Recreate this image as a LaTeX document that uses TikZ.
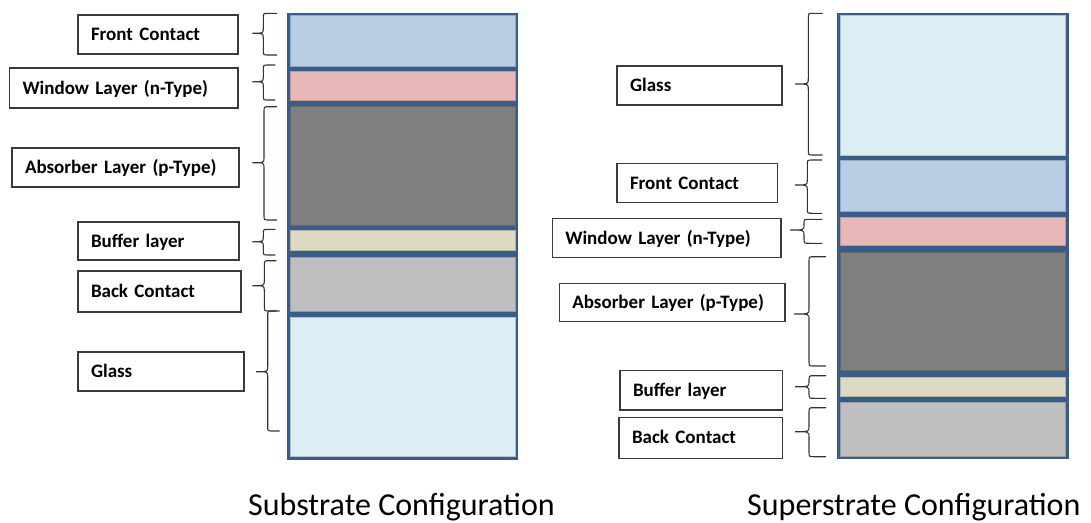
\documentclass[tikz,border=0pt]{standalone}
\usepackage{fontspec}
\setmainfont{Carlito}

\definecolor{edgeblue}{HTML}{385D8A}
\definecolor{frontc}{HTML}{B9CDE5}
\definecolor{windowc}{HTML}{E6B9B8}
\definecolor{absorbc}{HTML}{7F7F7F}
\definecolor{bufferc}{HTML}{DDD9C3}
\definecolor{backc}{HTML}{BFBFBF}
\definecolor{glassc}{HTML}{DBEEF4}
\definecolor{boxline}{HTML}{3A3A3A}

% curly brace opening to the right: name, end x, spine x, tip x, top y, tip y, bottom y
\newcommand{\layerbrace}[7]{%
  \coordinate (#1-top) at (#2,#5);
  \coordinate (#1-bot) at (#2,#7);
  \coordinate (#1-tip) at (#4,#6);
  \draw[bracestyle] (#1-top) -- (#3+5,#5) .. controls (#3,#5) .. (#3,#5+5)
    -- (#3,#6-5) .. controls (#3,#6) .. (#1-tip)
    .. controls (#3,#6) .. (#3,#6+5)
    -- (#3,#7-5) .. controls (#3,#7) .. (#3+5,#7) -- (#1-bot);
}

\begin{document}
\begin{tikzpicture}[x=1pt,y=-1pt,
  lbl/.style={draw=boxline, line width=1.1pt, fill=white, anchor=west,
    inner xsep=13pt, inner ysep=0pt, outer sep=0pt, align=left,
    text height=16.2pt, text depth=4pt,
    font=\fontsize{19}{22}\selectfont\bfseries},
  layer/.style={draw=#1!82!black, line width=0.5pt, fill=#1},
  stackframe/.style={fill=edgeblue},
  bracestyle/.style={draw=black!80, line width=1.1pt, line cap=round},
  caption/.style={font=\fontsize{32}{38}\selectfont, anchor=base west, inner sep=0pt}
]
\useasboundingbox (0,0) rectangle (1091,522);

% ---------- substrate stack ----------
\fill[stackframe] (286.7,12.7) rectangle (518.3,460);
\draw[layer=frontc]  (290,15.7)  rectangle (515.7,66);
\draw[layer=windowc] (290,71.7)  rectangle (515.7,100);
\draw[layer=absorbc] (290,106.7) rectangle (515.7,225);
\draw[layer=bufferc] (290,230)   rectangle (515.7,250);
\draw[layer=backc]   (290,257.3) rectangle (515.7,311);
\draw[layer=glassc]  (290,317.3) rectangle (515.7,456.7);

\layerbrace{bsFC}{276.7}{263.3}{252.3}{13.3}{33.3}{55}
\layerbrace{bsWL}{275}{263.3}{252.3}{65}{81.7}{100}
\layerbrace{bsAL}{276.7}{264}{252.3}{106.7}{162.7}{220}
\layerbrace{bsBL}{275}{263.3}{252.3}{229.3}{241.7}{255}
\layerbrace{bsBC}{276}{264.3}{252.3}{260.7}{285.7}{311}
\layerbrace{bsGL}{279.3}{267.7}{256}{311}{371.7}{431}

\node[lbl, text width=134pt, minimum height=39pt]   (sFC) at (78,34.5)   {Front Contact};
\node[lbl, text width=202.5pt, minimum height=40pt] (sWL) at (9.5,88)    {Window Layer (n-Type)};
\node[lbl, text width=201pt, minimum height=39pt]   (sAL) at (12,167.5)  {Absorber Layer (p-Type)};
\node[lbl, text width=135pt, minimum height=38pt]   (sBL) at (78,241)    {Buffer layer};
\node[lbl, text width=137pt, minimum height=41pt]   (sBC) at (78,291.5)  {Back Contact};
\node[lbl, text width=140pt, minimum height=39pt]   (sGL) at (78,371.5)  {Glass};

\node[caption] (subcap) at (248,515) {Substrate Configuration};

% ---------- superstrate stack ----------
\fill[stackframe] (836.7,12.7) rectangle (1068.7,459.3);
\draw[layer=glassc]  (840,15.7)  rectangle (1065.7,155);
\draw[layer=frontc]  (840,160)   rectangle (1065.7,211);
\draw[layer=windowc] (840,217.3) rectangle (1065.7,245.3);
\draw[layer=absorbc] (840,252.3) rectangle (1065.7,370);
\draw[layer=bufferc] (840,377.3) rectangle (1065.7,396.7);
\draw[layer=backc]   (840,402.7) rectangle (1065.7,456.7);

\layerbrace{bpGL}{822.3}{808.3}{795}{13.3}{84}{155}
\layerbrace{bpFC}{821.7}{807.3}{795}{160}{185}{213.3}
\layerbrace{bpWL}{822}{804}{790}{219.3}{230}{243.3}
\layerbrace{bpAL}{825.7}{809}{794}{256.7}{314}{366}
\layerbrace{bpBL}{825.7}{809}{795}{375.7}{386.7}{398.3}
\layerbrace{bpBC}{825.7}{809}{795}{407.7}{431.7}{456.7}

\node[lbl, text width=139pt, minimum height=39pt]   (pGL) at (617,85.5)    {Glass};
\node[lbl, text width=134.6pt, minimum height=39.7pt] (pFC) at (617,183)   {Front Contact};
\node[lbl, text width=202.7pt, minimum height=39.2pt] (pWL) at (552.3,238) {Window Layer (n-Type)};
\node[lbl, text width=199.7pt, minimum height=38.4pt] (pAL) at (559.3,302.5) {Absorber Layer (p-Type)};
\node[lbl, text width=136.5pt, minimum height=39.3pt] (pBL) at (620,390.3)  {Buffer layer};
\node[lbl, text width=137.5pt, minimum height=40.7pt] (pBC) at (619,437.7)  {Back Contact};

\node[caption] (supcap) at (747,515) {Superstrate Configuration};
\end{tikzpicture}
\end{document}
